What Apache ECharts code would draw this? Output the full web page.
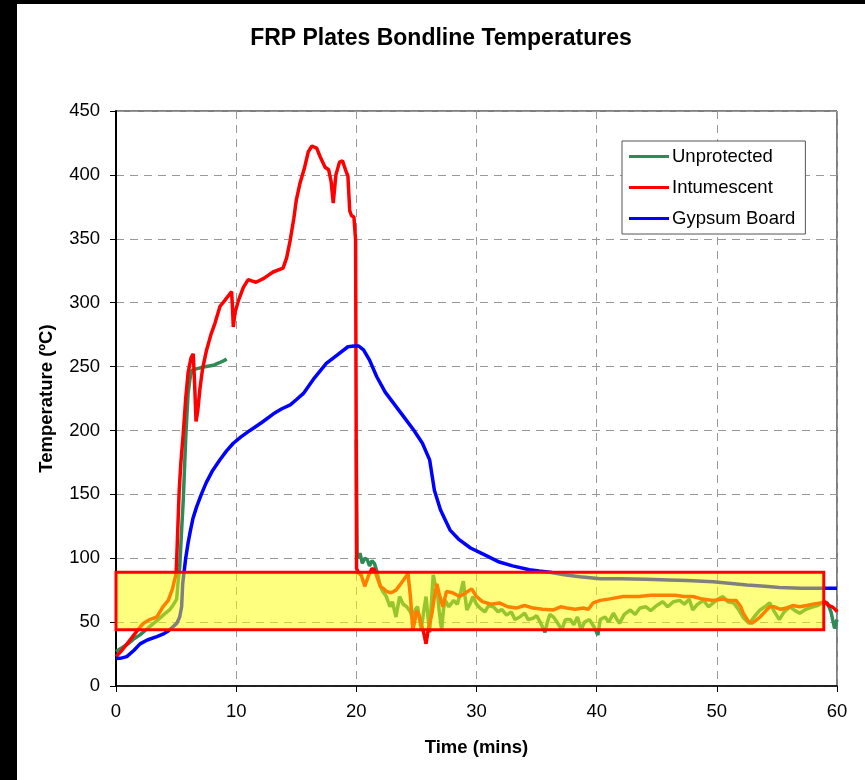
<!DOCTYPE html>
<html>
<head>
<meta charset="utf-8">
<script src="https://cdn.jsdelivr.net/npm/echarts@6/dist/echarts.min.js"></script>
<style>
html,body{margin:0;padding:0;background:#fff;}
#chart{width:865px;height:780px;}
</style>
</head>
<body>
<div id="chart"></div>
<script>
// ---- Data (time in mins, temperature in ºC) ----
const seriesNames = ['Unprotected', 'Intumescent', 'Gypsum Board'];
const xTicks = [0, 10, 20, 30, 40, 50, 60];
const yTicks = [0, 50, 100, 150, 200, 250, 300, 350, 400, 450];
const highlightBand = { x: [0, 58.9], y: [44, 89] };

const unprotected = [
  [0,27],[0.5,30],[1,33],[1.5,37],[2,40],[2.5,44],[3,48],[3.5,52],[4,56],[4.5,60],[4.8,64],[5.05,68],[5.15,80],[5.3,93],[5.45,120],[5.6,146],[5.72,175],[5.82,198],[5.92,215],[6.0,229],[6.15,240],[6.3,247],[6.6,248],[7.0,249],[7.5,250],[8.1,251],[8.6,253],[9.07,255],[9.2,256],
  [9.5,null],
  [20.0,193],[20.03,140],[20.06,105],[20.15,100],[20.3,104],[20.5,96],[20.7,100],[20.9,99],[21.1,94],[21.3,98],[21.5,96],[21.7,90],[22.0,78],[22.2,74],[22.5,70],[22.8,62],[23.0,66],[23.3,54],[23.6,70],[23.9,64],[24.2,62],[24.5,58],[24.7,52],[24.9,60],[25.1,62],[25.25,52],[25.4,44],[25.6,58],[25.8,70],[25.95,55],[26.1,42],[26.25,65],[26.4,87],[26.55,80],[26.7,78],[26.9,58],[27.1,44],[27.25,60],[27.4,67],[27.7,62],[28.1,67],[28.4,64],[28.7,74],[28.9,82],[29.05,70],[29.2,59.5],[29.5,65],[29.7,70],[30.0,64],[30.3,61],[30.7,58],[31.0,63],[31.4,62],[31.8,58],[32.1,60],[32.5,55.5],[32.9,58],[33.2,52],[33.6,54],[34.0,57],[34.3,52],[34.7,53],[35.0,55],[35.3,50],[35.7,42],[35.9,50],[36.1,56],[36.4,54],[36.7,50],[37.1,44],[37.4,52],[37.8,52],[38.1,48],[38.4,54],[38.7,44],[39.0,50],[39.4,52],[39.8,46],[40.1,40],[40.3,52],[40.7,54],[41.0,50],[41.4,57],[41.7,52],[41.9,49],[42.3,56],[42.8,59.5],[43.2,56],[43.6,61],[44.1,62],[44.5,59],[45.0,63],[45.5,66],[45.9,62],[46.4,66],[46.9,67],[47.3,64],[47.7,68],[48.0,59.5],[48.4,64],[48.9,67],[49.3,62],[49.7,65],[50.1,68],[50.5,70],[50.9,66],[51.4,65],[51.8,60],[52.2,53.5],[52.7,49],[53.1,54],[53.6,59.5],[54.0,62],[54.4,65],[54.8,58],[55.2,52],[55.6,58],[56.1,62],[56.5,59],[56.9,57],[57.4,60],[58.0,62],[58.4,63],[58.8,65],[59.2,65],[59.5,58],[59.8,45],[60,52]
];

const intumescent = [
  [0,23],[0.5,28],[1,34],[1.5,40],[1.7,42.5],[2.0,46],[2.27,49],[2.8,52],[3.4,54],[3.9,62],[4.35,67],[4.7,76],[5.0,88],[5.05,99],[5.15,125],[5.26,153],[5.4,175],[5.6,198],[5.8,225],[6.0,245],[6.1,250],[6.25,257],[6.43,260],[6.55,235],[6.66,207],[6.8,215],[6.99,233],[7.2,248],[7.54,263],[7.9,275],[8.24,284],[8.65,297],[9.07,302],[9.4,306],[9.62,308.6],[9.7,295],[9.76,281],[9.9,292],[10.2,302],[10.6,312],[11.0,318],[11.3,317],[11.65,316],[12.3,319],[13.07,324],[13.9,327],[14.2,335],[14.5,349],[14.8,366],[15.0,380],[15.3,393],[15.7,406],[16.0,418],[16.3,422.6],[16.7,421],[17.0,414],[17.4,406],[17.7,404],[17.9,395],[18.08,378],[18.3,400],[18.6,410],[18.85,411],[19.1,404],[19.3,399],[19.45,372],[19.6,368],[19.8,367],[19.94,349],
  [20.0,349],[20.02,92],[20.2,88],[20.4,87],[20.7,78],[21.0,86],[21.3,92],[21.5,91],[21.7,86],[22.0,78],[22.3,76],[22.5,74],[22.9,73],[23.3,75],[23.7,80],[24.0,84],[24.3,88],[24.5,70],[24.7,44],[24.85,50],[25.0,59],[25.2,56],[25.4,48],[25.6,42],[25.8,33],[26.0,45],[26.3,57],[26.5,70],[26.7,80],[26.9,72],[27.2,62],[27.5,74],[28.0,73],[28.6,70],[29.1,73],[29.6,76],[30.0,70],[30.5,66],[31.2,64],[31.9,65],[32.6,62],[33.3,61],[34.0,63],[34.7,61],[35.5,60],[36.4,59.5],[37.0,62],[37.5,61],[38.2,60],[38.9,61],[39.3,60],[39.7,65],[40.3,67],[41.0,68],[42.2,70],[43.5,70],[44.5,71],[45.5,71],[46.5,71],[47.3,70],[48.0,70],[48.8,68],[49.7,67],[50.5,68],[51.0,67],[51.6,67],[52.0,62],[52.2,57],[52.6,51],[52.9,49],[53.2,51],[53.6,54],[54.0,58],[54.4,62],[54.8,62],[55.3,60],[55.8,61],[56.3,63],[56.9,62],[57.5,63],[58.0,64],[58.6,65],[59.0,66],[59.3,63],[59.6,62],[59.9,59.5],[60,58]
];

const gypsumBoard = [
  [0,21.6],[0.5,22],[0.9,23],[1.5,28],[2.0,33],[2.6,36],[3.4,38.6],[4.0,41],[4.35,43],[4.7,46],[5.05,49],[5.3,54],[5.46,62],[5.5,70],[5.55,80],[5.65,88],[5.8,100],[6.0,112],[6.16,120],[6.4,131],[6.7,140],[7.1,150],[7.5,159],[8.0,168],[8.65,177],[9.2,184],[9.76,190],[10.4,195],[11.15,200],[12.1,206],[13.1,213],[13.8,217],[14.5,220],[15.0,224],[15.6,229],[16.5,241],[17.5,252.5],[18.4,259],[19.3,265.5],[19.8,266],[20.2,266],[20.6,263],[21.1,255],[21.7,242],[22.4,230],[23.2,220],[24.0,210],[24.8,200],[25.5,190],[26.1,177],[26.3,165],[26.5,153],[27.0,138],[27.4,130],[27.8,122],[28.5,115],[29.5,108],[30.6,103],[31.9,97],[33.0,94],[34.4,91],[35.2,90],[36.1,89],[37.3,87],[38.6,85.5],[40.3,84],[42.0,84],[44.1,83.5],[46.0,83],[47.5,82.5],[49.7,81.6],[51.0,80.5],[52.5,79],[54.0,78],[55.2,77],[57.0,76.5],[58.8,76.5],[60,76.5]
];

const colors = ['#2E8B57', '#FF0000', '#0000FF'];
const FONT = '"Liberation Sans", Arial, sans-serif';

const chart = echarts.init(document.getElementById('chart'), null, { renderer: 'canvas' });

const lineSeries = [unprotected, intumescent, gypsumBoard].map((d, i) => ({
  name: seriesNames[i],
  type: 'line',
  data: d,
  showSymbol: false,
  symbol: 'none',
  connectNulls: false,
  z: 2,
  lineStyle: { color: colors[i], width: 3.5 },
  itemStyle: { color: colors[i] }
}));

const option = {
  animation: false,
  backgroundColor: '#fff',
  title: {
    text: 'FRP Plates Bondline Temperatures',
    left: 441,
    top: 27,
    textAlign: 'center',
    padding: 0,
    textStyle: { fontFamily: FONT, fontSize: 23, fontWeight: 'bold', color: '#000' }
  },
  legend: {
    data: seriesNames,
    orient: 'vertical',
    left: 622,
    top: 141,
    padding: [5, 10, 5, 7],
    itemGap: 10,
    itemWidth: 40,
    itemHeight: 3,
    icon: 'rect',
    borderColor: '#555',
    borderWidth: 1,
    backgroundColor: '#fff',
    textStyle: { fontFamily: FONT, fontSize: 18.5, color: '#000', lineHeight: 21, padding: [0, 0, 0, -2] }
  },
  grid: {
    left: 116, right: 28, top: 111, bottom: 94,
    show: true, borderColor: '#000', borderWidth: 1, backgroundColor: 'transparent'
  },
  xAxis: {
    type: 'value', min: 0, max: 60, interval: 10,
    name: 'Time (mins)', nameLocation: 'middle', nameGap: 52,
    nameTextStyle: { fontFamily: FONT, fontSize: 18.5, fontWeight: 'bold', color: '#000' },
    axisLine: { show: true, lineStyle: { color: '#000', width: 1.5 } },
    axisTick: { show: true, inside: false, length: 6, lineStyle: { color: '#000' } },
    axisLabel: { fontFamily: FONT, fontSize: 18.5, color: '#000', margin: 16,
      formatter: v => xTicks.includes(v) ? String(v) : '' },
    splitLine: { show: true, lineStyle: { color: '#999', type: [8, 6], width: 1 } }
  },
  yAxis: {
    type: 'value', min: 0, max: 450, interval: 50,
    name: 'Temperature (ºC)', nameLocation: 'middle', nameGap: 60,
    nameTextStyle: { fontFamily: FONT, fontSize: 18.5, fontWeight: 'bold', color: '#000' },
    axisLine: { show: true, lineStyle: { color: '#000', width: 2 } },
    axisTick: { show: true, inside: false, length: 6, lineStyle: { color: '#000' } },
    axisLabel: { fontFamily: FONT, fontSize: 18.5, color: '#000', margin: 16,
      formatter: v => yTicks.includes(v) ? String(v) : '' },
    splitLine: { show: true, lineStyle: { color: '#999', type: [8, 6], width: 1 } }
  },
  graphic: [
    { type: 'rect', left: 0, top: 0, shape: { width: 17, height: 780 }, style: { fill: '#000' }, z: 100 },
    { type: 'rect', left: 0, top: 0, shape: { width: 865, height: 4 }, style: { fill: '#000' }, z: 100 }
  ],
  series: lineSeries.concat([{
    name: 'band',
    type: 'line',
    data: [],
    z: 10,
    silent: true,
    markArea: {
      silent: true,
      z: 20,
      itemStyle: { color: 'rgba(255,255,0,0.5)', borderColor: '#FF0000', borderWidth: 3 },
      data: [[
        { coord: [highlightBand.x[0], highlightBand.y[0]] },
        { coord: [highlightBand.x[1], highlightBand.y[1]] }
      ]]
    }
  }])
};

chart.setOption(option);
</script>
</body>
</html>
